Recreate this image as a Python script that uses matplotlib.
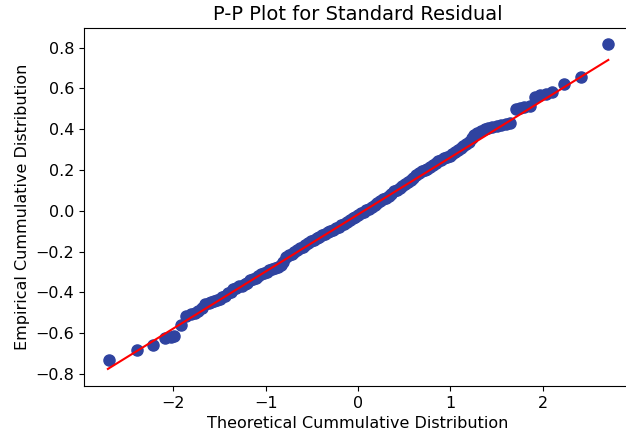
import numpy as np
import matplotlib
matplotlib.use("Agg")
import matplotlib.pyplot as plt

# theoretical quantiles (x) and sorted standardized residuals (y)
theoretical = [-2.70, -2.39, -2.22, -2.09, -2.03, -1.99, -1.92, -1.86, -1.81, -1.77,
               -1.73, -1.69, -1.66, -1.62, -1.59, -1.56, -1.53, -1.50, -1.47, -1.44,
               -1.41, -1.38, -1.35, -1.32, -1.29, -1.26, -1.23, -1.20, -1.17, -1.14,
               -1.11, -1.08, -1.05, -1.02, -0.99, -0.96, -0.93, -0.90, -0.87, -0.84,
               -0.81, -0.78, -0.75, -0.72, -0.69, -0.66, -0.63, -0.60, -0.57, -0.54,
               -0.51, -0.48, -0.45, -0.42, -0.39, -0.36, -0.33, -0.30, -0.27, -0.24,
               -0.21, -0.18, -0.15, -0.12, -0.09, -0.06, -0.03, 0.00, 0.03, 0.06,
               0.09, 0.12, 0.15, 0.18, 0.21, 0.24, 0.27, 0.30, 0.33, 0.36,
               0.39, 0.42, 0.45, 0.48, 0.51, 0.54, 0.57, 0.60, 0.63, 0.66,
               0.69, 0.72, 0.75, 0.78, 0.81, 0.84, 0.87, 0.90, 0.93, 0.96,
               0.99, 1.02, 1.05, 1.08, 1.11, 1.14, 1.17, 1.20, 1.23, 1.26,
               1.29, 1.33, 1.37, 1.41, 1.45, 1.50, 1.55, 1.60, 1.65, 1.71,
               1.75, 1.80, 1.86, 1.92, 1.97, 2.03, 2.10, 2.23, 2.41, 2.71]
empirical = [-0.73, -0.68, -0.66, -0.625, -0.62, -0.615, -0.56, -0.515, -0.505, -0.50,
             -0.49, -0.475, -0.455, -0.45, -0.445, -0.44, -0.435, -0.43, -0.42, -0.415,
             -0.405, -0.40, -0.385, -0.38, -0.37, -0.37, -0.36, -0.355, -0.34, -0.335,
             -0.33, -0.32, -0.31, -0.305, -0.30, -0.29, -0.285, -0.28, -0.275, -0.265,
             -0.25, -0.225, -0.215, -0.21, -0.20, -0.19, -0.18, -0.175, -0.165, -0.16,
             -0.15, -0.145, -0.135, -0.13, -0.12, -0.115, -0.105, -0.10, -0.095, -0.085,
             -0.08, -0.07, -0.065, -0.055, -0.045, -0.035, -0.03, -0.02, -0.01, -0.005,
             0.005, 0.01, 0.02, 0.03, 0.04, 0.05, 0.06, 0.065, 0.075, 0.085,
             0.095, 0.10, 0.11, 0.12, 0.13, 0.14, 0.15, 0.16, 0.175, 0.185,
             0.195, 0.20, 0.205, 0.215, 0.225, 0.235, 0.245, 0.25, 0.26, 0.265,
             0.27, 0.28, 0.29, 0.30, 0.31, 0.32, 0.33, 0.34, 0.355, 0.37,
             0.38, 0.39, 0.40, 0.405, 0.41, 0.415, 0.42, 0.425, 0.43, 0.50,
             0.505, 0.51, 0.515, 0.56, 0.57, 0.575, 0.585, 0.62, 0.655, 0.82]

# fitted reference line
line_x = [-2.71, 2.71]
line_y = [-0.775, 0.74]

fig = plt.figure(figsize=(6.26, 4.43), dpi=100)
# right spine falls outside the cropped picture
ax = fig.add_axes([0.134, 0.129, 0.91, 0.808])
ax.plot(theoretical, empirical, 'o', color='#2f43a0', markersize=8, zorder=2)
ax.plot(line_x, line_y, color='red', linewidth=1.5, zorder=3)
ax.set_xlim(-2.97, 3.20)
ax.set_ylim(-0.858, 0.897)
ax.set_xticks([-2, -1, 0, 1, 2])
ax.set_yticks([-0.8, -0.6, -0.4, -0.2, 0.0, 0.2, 0.4, 0.6, 0.8])
ax.tick_params(labelsize=11.5)
# centre texts on x=0, as in the uncropped original
plt.title("P-P Plot for Standard Residual", fontsize=14, x=0.481)
plt.xlabel("Theoretical Cummulative Distribution", fontsize=11.5, x=0.481)
plt.ylabel("Empirical Cummulative Distribution", fontsize=11.5)
fig.savefig("out.png", dpi=100)
